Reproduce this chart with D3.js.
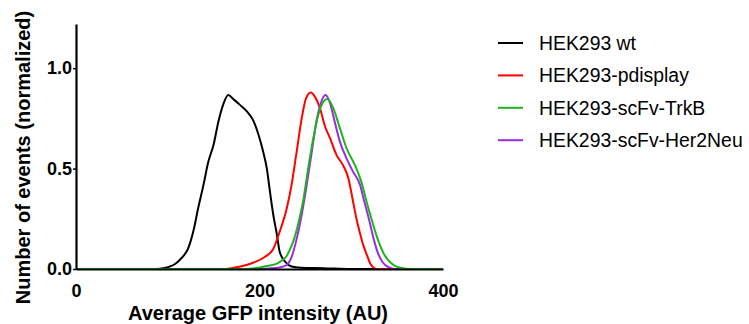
<!DOCTYPE html>
<html>
<head>
<meta charset="utf-8">
<script src="https://cdn.jsdelivr.net/npm/d3@7"></script>
<style>
  body { margin: 0; background: #fff; }
  svg { display: block; font-family: "Liberation Sans", Arial, sans-serif; }
</style>
</head>
<body>
<svg id="chart" width="749" height="324"></svg>
<script>
// series (x = GFP intensity, y = normalized events)
var seriesNames = ["HEK293 wt", "HEK293-pdisplay", "HEK293-scFv-TrkB", "HEK293-scFv-Her2Neu"];
var seriesColors = ["#000000", "#ff0000", "#1db41d", "#9b2be6"];

var wtX = [0, 88, 95, 102, 108, 113, 118, 122, 128, 133, 139, 144, 150, 155, 160.5, 166, 171.5, 179, 186, 193, 199, 204, 208, 211.4, 215, 219, 222, 228, 235, 245, 270, 300, 400];
var wtY = [0, 0, 0.004, 0.012, 0.025, 0.045, 0.07, 0.10, 0.19, 0.30, 0.42, 0.53, 0.62, 0.73, 0.82, 0.866, 0.846, 0.816, 0.786, 0.741, 0.667, 0.584, 0.50, 0.385, 0.27, 0.17, 0.086, 0.036, 0.012, 0.006, 0.004, 0, 0];

var pdX = [0, 160, 168, 179, 193, 206, 215, 222, 229.6, 235, 240.5, 246, 250.7, 256, 260.5, 266, 271, 277, 284, 291, 297, 302, 306, 310, 313, 317, 321, 325, 328, 400];
var pdY = [0, 0, 0.003, 0.012, 0.031, 0.061, 0.10, 0.186, 0.30, 0.42, 0.584, 0.75, 0.85, 0.879, 0.857, 0.80, 0.716, 0.65, 0.567, 0.517, 0.45, 0.335, 0.244, 0.17, 0.12, 0.07, 0.025, 0.005, 0, 0];

var trkX = [0, 185, 195, 208, 219, 225, 229.6, 233, 237, 242, 248, 253, 258.6, 264, 269.5, 274, 280.5, 287.7, 295, 304, 311, 317, 322, 328, 335, 346, 355, 365, 400];
var trkY = [0, 0, 0.004, 0.015, 0.027, 0.045, 0.065, 0.095, 0.14, 0.22, 0.35, 0.50, 0.65, 0.766, 0.832, 0.846, 0.80, 0.70, 0.60, 0.517, 0.434, 0.33, 0.25, 0.16, 0.08, 0.02, 0.005, 0, 0];

var herX = [0, 195, 210, 222, 229.6, 235, 240.5, 246, 251.5, 257, 262, 266.7, 272, 277, 282, 287.7, 295, 302, 309.5, 314, 319.5, 325, 329, 334, 340, 348, 400];
var herY = [0, 0, 0.003, 0.008, 0.02, 0.06, 0.15, 0.27, 0.42, 0.584, 0.733, 0.824, 0.866, 0.824, 0.733, 0.633, 0.55, 0.484, 0.42, 0.34, 0.244, 0.14, 0.08, 0.035, 0.01, 0, 0];

var xTicks = [0, 200, 400];
var yTicks = [0, 0.5, 1.0];

var seriesX = [wtX, pdX, trkX, herX];
var seriesY = [wtY, pdY, trkY, herY];

var svg = d3.select("#chart");

var x = d3.scaleLinear().domain([0, 400]).range([76, 443]);
var y = d3.scaleLinear().domain([0, 1.22]).range([269, 24]);

var line = d3.line()
    .x(d => x(d[0]))
    .y(d => y(d[1]))
    .curve(d3.curveMonotoneX);

// draw order: wt, pdisplay, Her2Neu, TrkB (green on top)
[0, 1, 3, 2].forEach(function (i) {
    var pts = seriesX[i].map((v, j) => [v, seriesY[i][j]]);
    svg.append("path")
        .datum(pts)
        .attr("d", line)
        .attr("fill", "none")
        .attr("stroke", seriesColors[i])
        .attr("stroke-width", 2)
        .attr("stroke-linejoin", "round");
});

var xAxis = svg.append("g")
    .attr("transform", "translate(0,269)")
    .call(d3.axisBottom(x).tickValues(xTicks).tickSize(0).tickSizeOuter(0).tickPadding(15.2).tickFormat(d3.format("d")));

var yAxis = svg.append("g")
    .attr("transform", "translate(76,0)")
    .call(d3.axisLeft(y).tickValues(yTicks).tickSize(3).tickSizeOuter(0).tickPadding(1).tickFormat(d3.format(".1f")));

[xAxis, yAxis].forEach(function (g) {
    g.select(".domain").attr("stroke", "#000").attr("stroke-width", 2.2);
    g.selectAll(".tick line").attr("stroke", "#000").attr("stroke-width", 1.5);
    g.selectAll(".tick text")
        .attr("fill", "#000")
        .style("font-size", "18px")
        .style("font-weight", "bold")
        .style("font-family", "'Liberation Sans', Arial, sans-serif");
});
xAxis.selectAll(".tick text").attr("dy", "0.71em");

svg.append("text")
    .attr("x", 258)
    .attr("y", 319.5)
    .attr("text-anchor", "middle")
    .style("font-size", "20px")
    .style("font-weight", "bold")
    .text("Average GFP intensity (AU)");

svg.append("text")
    .attr("transform", "translate(30,157.5) rotate(-90)")
    .attr("text-anchor", "middle")
    .style("font-size", "20px")
    .style("font-weight", "bold")
    .text("Number of events (normalized)");

// legend
var legend = svg.append("g");
seriesNames.forEach(function (name, i) {
    var ly = 43 + i * 32.4;
    legend.append("line")
        .attr("x1", 498).attr("x2", 523)
        .attr("y1", ly).attr("y2", ly)
        .attr("stroke", seriesColors[i])
        .attr("stroke-width", 2);
    legend.append("text")
        .attr("x", 539)
        .attr("y", ly + 7)
        .style("font-size", "19.4px")
        .attr("fill", "#000")
        .text(name);
});
</script>
</body>
</html>
